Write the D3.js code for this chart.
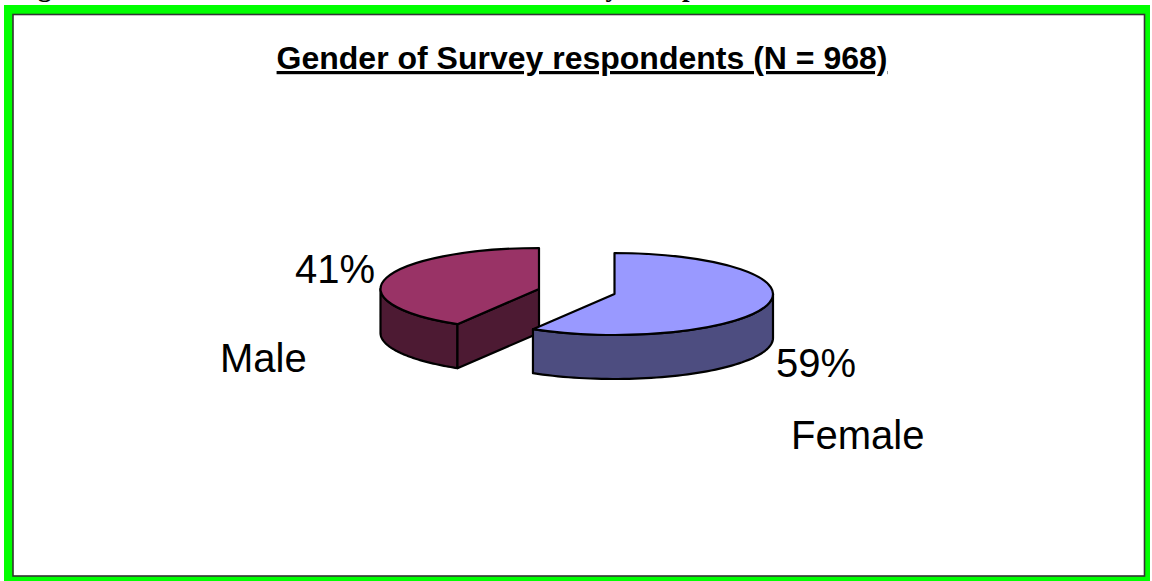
<!DOCTYPE html>
<html><head><meta charset="utf-8">
<style>html,body{margin:0;padding:0;background:#fff;overflow:hidden}svg{display:block}</style>
<script src="https://cdn.jsdelivr.net/npm/d3@7/dist/d3.min.js"></script></head>
<body><svg id="c" width="1152" height="581"></svg>
<script>
const categories = ["Female", "Male"];
const percents = [58.6, 41.4];
const percentLabels = ["59%", "41%"];
const titleText = "Gender of Survey respondents (N = 968)";

const svg = d3.select("#c");
const W = 1152, H = 581;
svg.append("rect").attr("width", W).attr("height", H).attr("fill", "#fff");

// clipped caption above the frame
[["Figure", 14], ["Survey", 538], ["Respondents", 640]].forEach(([t, x]) => {
  svg.append("text").attr("x", x).attr("y", -4).attr("font-family", "Liberation Serif")
    .attr("font-weight", "bold").attr("font-size", 27).text(t);
});

// outer frame
svg.append("rect").attr("x", 4).attr("y", 5).attr("width", 1146).attr("height", 576).attr("fill", "#00ff00");
svg.append("rect").attr("x", 13).attr("y", 14.5).attr("width", 1131.5).attr("height", 561.5)
  .attr("fill", "#fff").attr("stroke", "#333").attr("stroke-width", 1.6);

svg.append("text").attr("x", 582).attr("y", 69).attr("text-anchor", "middle")
  .attr("font-family", "Liberation Sans").attr("font-weight", "bold").attr("font-size", 32)
  .attr("text-decoration", "underline").text(titleText);

const pie = d3.pie().sort(null);
const arcs = pie(percents);
const rx = 158.5, ry = 41, depth = 44;
const centers = [[614.5, 294], [539, 289]];
const topCols = ["#9999ff", "#993366"];
const sideCols = ["#4d4d80", "#4d1a33"];
const px = (c, a) => c[0] + rx * Math.sin(a), py = (c, a) => c[1] - ry * Math.cos(a);
const lineGen = d3.line();

function rim(c, a0, a1, dy) {
  return d3.range(0, 61).map(i => {
    const a = a0 + (a1 - a0) * i / 60;
    return [px(c, a), py(c, a) + dy];
  });
}
const strokeCol = "#000", strokeW = 2.2;
function drawSide(g, pts, col) {
  g.append("path").attr("d", lineGen(pts) + "Z").attr("fill", col)
    .attr("stroke", strokeCol).attr("stroke-width", strokeW).attr("stroke-linejoin", "round");
}
function drawTop(g, i) {
  const c = centers[i];
  g.append("path")
    .attr("d", d3.arc().innerRadius(0).outerRadius(rx)(arcs[i]))
    .attr("transform", `translate(${c[0]},${c[1]}) scale(1,${ry / rx})`)
    .attr("fill", topCols[i]).attr("stroke", strokeCol).attr("stroke-width", strokeW)
    .attr("stroke-linejoin", "round")
    .style("vector-effect", "non-scaling-stroke");
}

// Male slice, behind
{
  const g = svg.append("g"), c = centers[1], a = arcs[1];
  const rimTop = rim(c, a.startAngle, 3 * Math.PI / 2, 0);
  const rimBot = rim(c, a.startAngle, 3 * Math.PI / 2, depth).reverse();
  drawSide(g, rimTop.concat(rimBot), sideCols[1]);
  const k = [px(c, a.startAngle), py(c, a.startAngle)];
  drawSide(g, [c, k, [k[0], k[1] + depth], [c[0], c[1] + depth]], sideCols[1]);
  drawTop(g, 1);
}
// Female slice, front
{
  const g = svg.append("g"), c = centers[0], a = arcs[0];
  const rimTop = rim(c, Math.PI / 2, a.endAngle, 0);
  const rimBot = rim(c, Math.PI / 2, a.endAngle, depth).reverse();
  drawSide(g, rimTop.concat(rimBot), sideCols[0]);
  drawTop(g, 0);
}

const labelFont = 40;
function label(x, y, t) {
  svg.append("text").attr("x", x).attr("y", y).attr("font-family", "Liberation Sans")
    .attr("font-size", labelFont).attr("fill", "#000").text(t);
}
label(295, 283, percentLabels[1]);
label(776, 377, percentLabels[0]);
label(220, 372, categories[1]);
label(791, 449, categories[0]);
</script></body></html>
